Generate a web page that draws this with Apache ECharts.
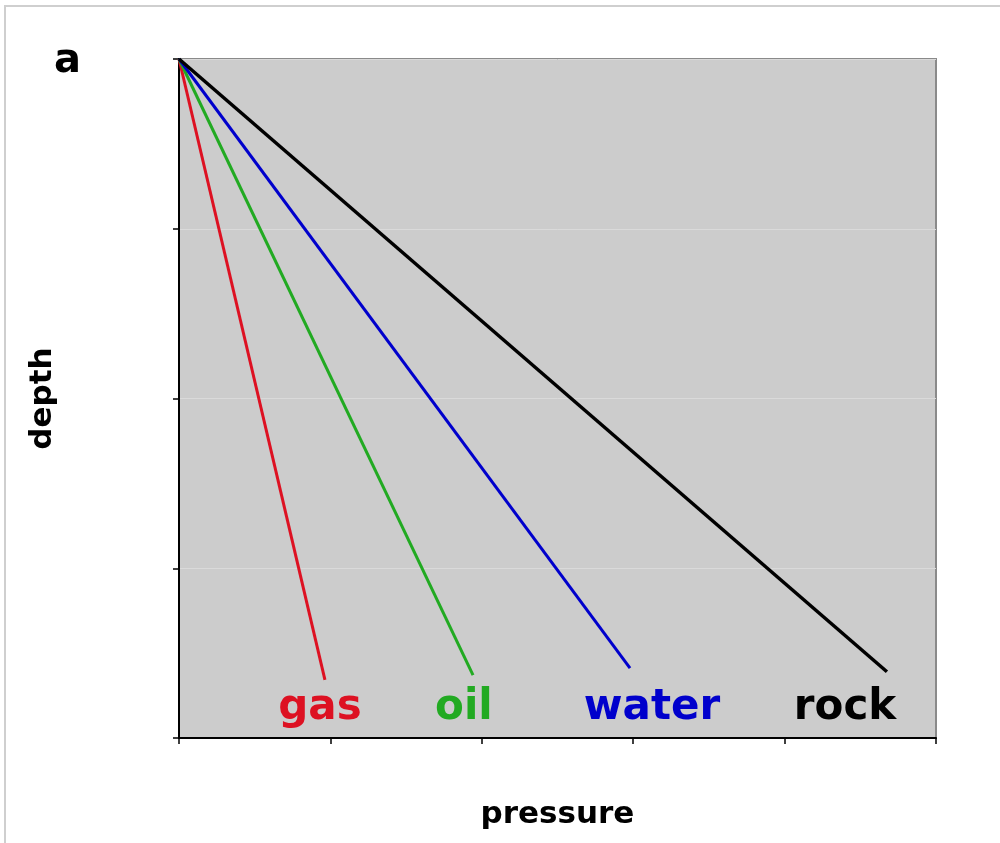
<!DOCTYPE html>
<html>
<head>
<meta charset="utf-8">
<script src="https://cdn.jsdelivr.net/npm/echarts@6/dist/echarts.min.js"></script>
<style>
html,body{margin:0;padding:0;background:#fff;}
#chart{width:1000px;height:843px;}
</style>
</head>
<body>
<div id="chart"></div>
<script>
// Data
var names = ['gas', 'oil', 'water', 'rock'];
var colors = ['#dd1122', '#22aa22', '#0000cc', '#000000'];
var startPressure = [0, 0, 0, 0];
var startDepth = [0, 0, 0, 0];
var endPressure = [0.964, 1.942, 2.979, 4.676];
var endDepth = [3.658, 3.629, 3.588, 3.61];
var labelPressure = [0.931, 1.882, 3.124, 4.399];
var labelDepth = [3.825, 3.825, 3.825, 3.825];
var xTicks = [0, 1, 2, 3, 4, 5];
var yTicks = [0, 1, 2, 3, 4];

var FONT = '"DejaVu Sans", Verdana, sans-serif';

var series = [];
names.forEach(function (n, i) {
  series.push({
    type: 'line',
    name: n,
    data: [[startPressure[i], startDepth[i]], [endPressure[i], endDepth[i]]],
    showSymbol: false,
    symbol: 'none',
    lineStyle: { color: colors[i], width: i === 3 ? 3.5 : 3 },
    z: 3 + i,
    silent: true
  });
});
series.push({
  type: 'scatter',
  symbolSize: 0,
  silent: true,
  itemStyle: { opacity: 1 },
  data: names.map(function (n, i) {
    return {
      value: [labelPressure[i], labelDepth[i]],
      itemStyle: { opacity: 1, color: colors[i] },
      label: {
        show: true,
        formatter: n,
        position: 'inside',
        color: colors[i],
        opacity: 1,
        fontFamily: FONT,
        fontWeight: 'bold',
        fontSize: 42
      }
    };
  }),
  z: 10
});

var chart = echarts.init(document.getElementById('chart'), null, { renderer: 'canvas' });
chart.setOption({
  animation: false,
  backgroundColor: '#ffffff',
  title: {
    text: 'a',
    left: 54,
    top: 42,
    padding: 0,
    textStyle: { fontFamily: FONT, fontWeight: 'bold', fontSize: 40, color: '#000' }
  },
  graphic: [{
    type: 'rect',
    shape: { x: 5, y: 6, width: 1000, height: 900 },
    style: { fill: 'none', stroke: '#cfcfcf', lineWidth: 2 },
    silent: true,
    z: 0
  }],
  grid: {
    left: 179, top: 59, right: 64, bottom: 105,
    show: true,
    backgroundColor: '#cccccc',
    borderColor: '#8a8a8a',
    borderWidth: 2
  },
  xAxis: {
    type: 'value',
    min: xTicks[0], max: xTicks[xTicks.length - 1], interval: 1,
    name: 'pressure',
    nameLocation: 'middle',
    nameGap: 61,
    nameTextStyle: { fontFamily: FONT, fontWeight: 'bold', fontSize: 31, color: '#000' },
    axisLine: { show: true, onZero: false, lineStyle: { color: '#000', width: 2 } },
    axisTick: { show: true, inside: false, length: 6, lineStyle: { color: '#000', width: 1.5 } },
    axisLabel: { show: false },
    splitLine: { show: false }
  },
  yAxis: {
    type: 'value',
    inverse: true,
    min: yTicks[0], max: yTicks[yTicks.length - 1], interval: 1,
    name: 'depth',
    nameLocation: 'middle',
    nameGap: 121,
    nameRotate: 90,
    nameTextStyle: { fontFamily: FONT, fontWeight: 'bold', fontSize: 31, color: '#000' },
    axisLine: { show: true, onZero: false, lineStyle: { color: '#000', width: 2 } },
    axisTick: { show: true, inside: false, length: 6, lineStyle: { color: '#000', width: 1.5 } },
    axisLabel: { show: false },
    splitLine: { show: true, lineStyle: { color: '#dadada', width: 1 } }
  },
  series: series
});
</script>
</body>
</html>
